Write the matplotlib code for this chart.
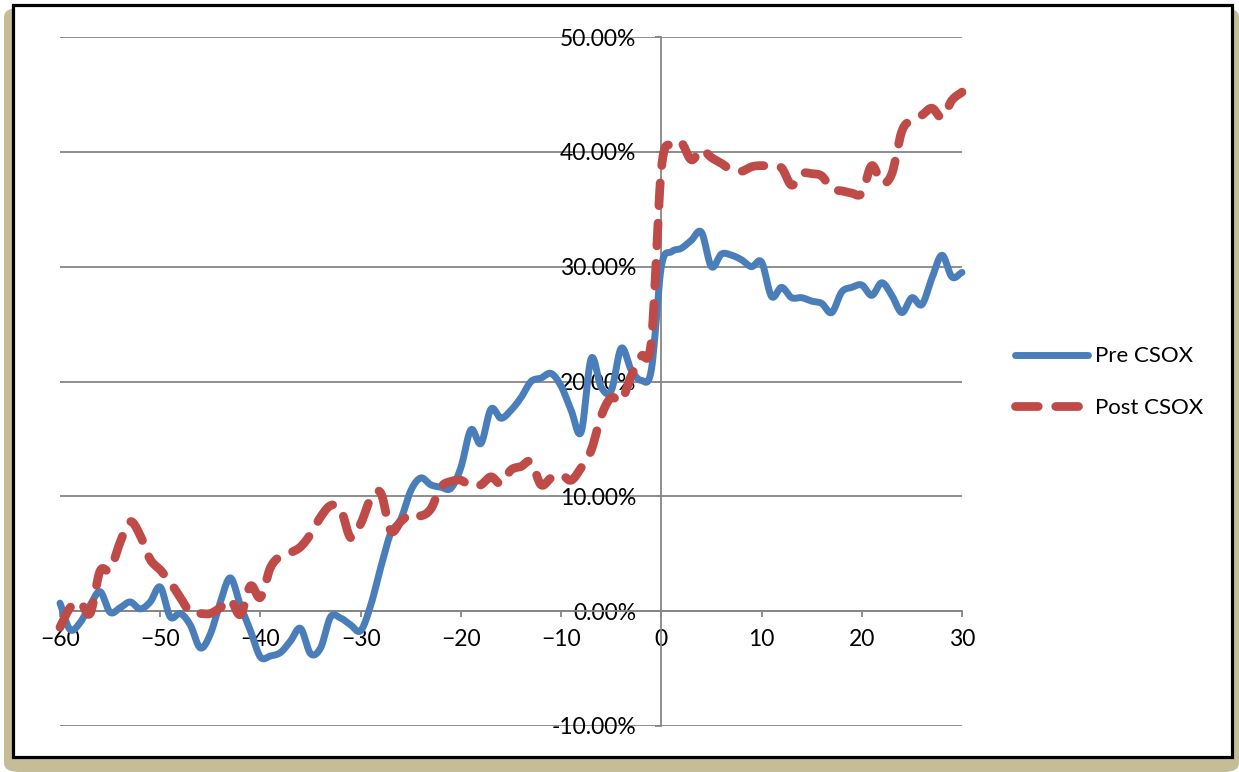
import numpy as np
import matplotlib
matplotlib.use("Agg")
import matplotlib.pyplot as plt
from matplotlib.patches import FancyBboxPatch, Rectangle
from matplotlib.ticker import FuncFormatter

plt.rcParams['font.family'] = ['Lato', 'DejaVu Sans']

# Event days relative to CSOX
days = list(range(-60, 31))

# Cumulative returns (%) before CSOX
pre_csox = [
    0.7, -1.6, -1.0, 0.5, 1.7, -0.1, 0.3, 0.8, 0.2, 0.8,
    2.1, -0.5, -0.2, -1.2, -3.2, -2.0, 0.8, 2.9, 0.5, -1.7,
    -4.0, -3.9, -3.6, -2.6, -1.5, -3.7, -3.2, -0.5, -0.6, -1.2,
    -1.7, 0.5, 3.8, 6.8, 8.0, 10.5, 11.6, 11.0, 10.8, 10.7,
    12.5, 15.8, 14.6, 17.6, 16.8, 17.5, 18.6, 20.0, 20.3, 20.7,
    19.6, 17.5, 15.6, 22.0, 19.5, 19.2, 22.9, 21.0, 20.1, 21.0,
    30.0, 31.3, 31.6, 32.3, 33.0, 30.0, 31.1, 31.0, 30.6, 30.0,
    30.4, 27.4, 28.2, 27.3, 27.3, 27.0, 26.8, 26.0, 27.8, 28.2,
    28.4, 27.5, 28.6, 27.5, 26.0, 27.3, 26.7, 29.0, 31.0, 29.1,
    29.5,
]

# Cumulative returns (%) after CSOX
post_csox = [
    -1.4, 0.3, 0.8, -0.2, 3.5, 3.6, 6.0, 7.8, 6.6, 4.5,
    3.6, 2.5, 1.2, -0.1, -0.2, -0.2, 0.3, 1.0, -0.3, 2.2,
    1.2, 3.8, 4.8, 5.1, 5.6, 6.7, 8.2, 9.2, 8.9, 6.4,
    7.6, 9.8, 10.3, 7.0, 7.8, 8.5, 8.3, 8.9, 10.8, 11.3,
    11.4, 10.9, 11.0, 11.7, 11.1, 12.3, 12.6, 13.0, 11.0, 11.6,
    11.9, 11.4, 12.5, 14.0, 17.0, 18.6, 18.3, 20.5, 22.2, 23.5,
    38.5, 40.7, 40.8, 39.3, 40.2, 39.5, 39.0, 38.4, 38.3, 38.7,
    38.8, 38.7, 38.6, 37.1, 38.1, 38.1, 37.9, 36.8, 36.6, 36.4,
    36.4, 38.8, 37.3, 38.1, 41.8, 42.8, 43.2, 43.8, 43.0, 44.5,
    45.2,
]

series_names = ["Pre CSOX", "Post CSOX"]
x_ticks = [-60, -50, -40, -30, -20, -10, 0, 10, 20, 30]
y_ticks = [-10, 0, 10, 20, 30, 40, 50]


def smooth(x, y, steps=12):
    """Catmull-Rom spline through the points, like a smoothed line chart."""
    x = np.asarray(x, float)
    y = np.asarray(y, float)
    px = np.concatenate([[2 * x[0] - x[1]], x, [2 * x[-1] - x[-2]]])
    py = np.concatenate([[2 * y[0] - y[1]], y, [2 * y[-1] - y[-2]]])
    t = np.linspace(0, 1, steps, endpoint=False)
    xs, ys = [], []
    for i in range(1, len(px) - 2):
        for p, out in ((px, xs), (py, ys)):
            p0, p1, p2, p3 = p[i - 1], p[i], p[i + 1], p[i + 2]
            out.extend(0.5 * ((2 * p1) + (-p0 + p2) * t
                              + (2 * p0 - 5 * p1 + 4 * p2 - p3) * t ** 2
                              + (-p0 + 3 * p1 - 3 * p2 + p3) * t ** 3))
    xs.append(x[-1])
    ys.append(y[-1])
    return np.array(xs), np.array(ys)


W, H = 1239, 772
fig = plt.figure(figsize=(W / 100, H / 100), dpi=100)

# Tan backdrop with a white, black-bordered panel on top
fig.patches.append(FancyBboxPatch((4 / W, 0), 1235 / W, 764 / H,
                                  boxstyle="round,pad=0,rounding_size=0.012",
                                  transform=fig.transFigure, facecolor="#C4BD97",
                                  edgecolor="none", zorder=-3))
fig.patches.append(Rectangle((13 / W, 15 / H), 1219 / W, 752 / H,
                             transform=fig.transFigure, facecolor="white",
                             edgecolor="black", linewidth=2.3, zorder=-2))

ax = fig.add_axes([60 / W, 46 / H, 902 / W, 689 / H])
ax.set_facecolor("none")

grey = "#868686"
blue = "#4A7EBB"
red = "#BE4B48"

sx, sy = smooth(days, pre_csox)
ax.plot(sx, sy, color=blue, lw=5.0, solid_capstyle="round",
        solid_joinstyle="round", label=series_names[0], clip_on=False, zorder=3)
sx, sy = smooth(days, post_csox)
ax.plot(sx, sy, color=red, lw=6.3, dashes=(2.6, 2.0), dash_capstyle="round",
        dash_joinstyle="round", label=series_names[1], clip_on=False, zorder=4)

ax.set_xlim(-60, 30)
ax.set_ylim(-10, 50)
ax.set_xticks(x_ticks)
ax.set_yticks(y_ticks)
ax.yaxis.set_major_formatter(FuncFormatter(lambda v, p: f"{v:.2f}%"))

ax.grid(axis="y", color=grey, lw=1.3)
ax.grid(axis="x", visible=False)
ax.set_axisbelow(True)

for side in ("top", "right"):
    ax.spines[side].set_visible(False)
ax.spines["left"].set_position(("data", 0))
ax.spines["bottom"].set_position(("data", 0))
for side in ("left", "bottom"):
    ax.spines[side].set_color(grey)
    ax.spines[side].set_linewidth(1.3)

ax.tick_params(axis="both", direction="out", length=4, width=1.3,
               color=grey, labelsize=16.5, labelcolor="black")
ax.tick_params(axis="x", pad=9)
ax.tick_params(axis="y", pad=14)

leg = ax.legend(loc="center left", bbox_to_anchor=(1015 / W, 390 / H),
                bbox_transform=fig.transFigure, frameon=False, fontsize=16,
                handlelength=3.3, handletextpad=0.3, labelspacing=1.4,
                borderaxespad=0, borderpad=0)

fig.savefig("out.png", dpi=100)
